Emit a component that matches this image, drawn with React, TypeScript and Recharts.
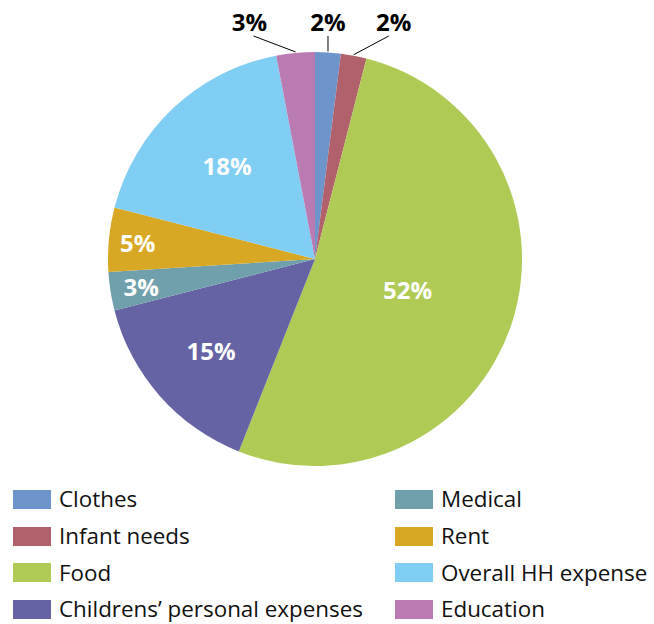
import React from 'react';
import { PieChart, Pie, Cell } from 'recharts';

const categories = ['Clothes', 'Infant needs', 'Food', 'Childrens\u2019 personal expenses', 'Medical', 'Rent', 'Overall HH expense', 'Education'];
const shares = [2, 2, 52, 15, 3, 5, 18, 3];
const colors = ['#6d95cc', '#b0616c', '#afcb55', '#6563a4', '#70a0ac', '#d8a824', '#80cef3', '#ba7ab2'];

const data = categories.map((name, i) => ({ name, value: shares[i] }));

const FONT = '"Open Sans", "Noto Sans", sans-serif';
const RAD = Math.PI / 180;

// label placement tweaks: inside labels at a fraction of the radius, outside ones shifted sideways
const insideRadius: Record<string, number> = {
  Food: 0.47,
  'Childrens\u2019 personal expenses': 0.67,
  Medical: 0.85,
  Rent: 0.86,
  'Overall HH expense': 0.62,
};
const outsideShift: Record<string, number> = {
  Clothes: 0,
  'Infant needs': 40,
  Education: -46,
};

const renderLabel = (props: any) => {
  const { cx, cy, midAngle, outerRadius, name, value } = props;
  const cos = Math.cos(-midAngle * RAD);
  const sin = Math.sin(-midAngle * RAD);
  if (name in outsideShift) {
    const ex = cx + outerRadius * cos;
    const ey = cy + outerRadius * sin;
    const tx = ex + outsideShift[name];
    const ty = cy - outerRadius - 31;
    const lx = tx + (outsideShift[name] < 0 ? 4 : outsideShift[name] > 0 ? -5 : 0);
    return (
      <g>
        <line x1={ex} y1={ey - 1} x2={lx} y2={ty + 15} stroke="#000" strokeWidth={1} />
        <text x={tx} y={ty} fill="#000" textAnchor="middle" dominantBaseline="central" fontFamily={FONT} fontSize={24} fontWeight={700}>
          {value}%
        </text>
      </g>
    );
  }
  const r = outerRadius * (insideRadius[name] ?? 0.6);
  return (
    <text x={cx + r * cos} y={cy + r * sin} fill="#fff" textAnchor="middle" dominantBaseline="central" fontFamily={FONT} fontSize={24} fontWeight={700}>
      {value}%
    </text>
  );
};

const ChartLegend = () => {
  const half = Math.ceil(data.length / 2);
  const cols = [data.slice(0, half), data.slice(half)];
  return (
    <div style={{ position: 'absolute', left: 13, top: 481, display: 'flex', fontFamily: FONT, fontSize: 22.4, color: '#111' }}>
      {cols.map((col, c) => (
        <div key={c} style={{ width: c === 0 ? 382 : 259 }}>
          {col.map((d) => {
            const i = data.indexOf(d);
            return (
              <div key={d.name} style={{ display: 'flex', alignItems: 'center', height: 36.7 }}>
                <span style={{ display: 'inline-block', flexShrink: 0, width: 38, height: 19, background: colors[i], marginRight: 8 }} />
                <span style={{ whiteSpace: 'nowrap', lineHeight: '36px' }}>{d.name}</span>
              </div>
            );
          })}
        </div>
      ))}
    </div>
  );
};

export default function App() {
  return (
    <div style={{ position: 'absolute', left: 0, top: 0, width: 654, height: 624, background: '#fff' }}>
      <PieChart width={654} height={480} margin={{ top: 0, right: 0, bottom: 0, left: 0 }}>
        <Pie
          data={data}
          dataKey="value"
          nameKey="name"
          cx={315}
          cy={259}
          outerRadius={207}
          startAngle={90}
          endAngle={-270}
          stroke="none"
          label={renderLabel}
          labelLine={false}
          isAnimationActive={false}
        >
          {data.map((d, i) => (
            <Cell key={d.name} fill={colors[i]} />
          ))}
        </Pie>
      </PieChart>
      <ChartLegend />
    </div>
  );
}
